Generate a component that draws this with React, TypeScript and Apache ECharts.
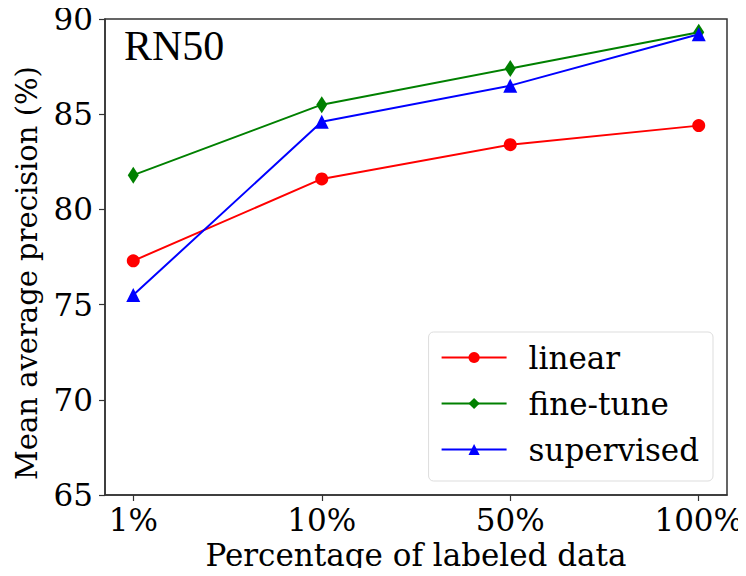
import React, { useEffect, useRef } from "react";
import * as echarts from "echarts";

const categories = ["1%", "10%", "50%", "100%"];
const linear = [77.3, 81.6, 83.4, 84.4];
const fineTune = [81.8, 85.5, 87.4, 89.3];
const supervised = [75.5, 84.6, 86.5, 89.2];
const yTicks = [65, 70, 75, 80, 85, 90];

const FONT = "DejaVu Serif";

export default function App() {
  const ref = useRef<HTMLDivElement>(null);
  useEffect(() => {
    if (!ref.current) return;
    const chart = echarts.init(ref.current, null, { renderer: "svg" });
    const toPts = (arr: number[]) => arr.map((v, i) => [i, v]);
    const mkSeries = (name: string, data: number[], color: string, symbol: string, size: any) => ({
      name,
      type: "line",
      data: toPts(data),
      symbol,
      symbolSize: size,
      lineStyle: { color, width: 2 },
      itemStyle: { color },
      emphasis: { disabled: true },
    });
    chart.setOption({
      animation: false,
      grid: {
        left: 105,
        top: 19,
        right: 19,
        bottom: 81,
        outerBoundsMode: "none",
        containLabel: false,
        show: true,
        borderColor: "#333",
        borderWidth: 1.5,
        backgroundColor: "transparent",
      },
      xAxis: {
        type: "value",
        min: -0.15,
        max: 3.15,
        name: "Percentage of labeled data",
        nameLocation: "middle",
        nameGap: 44,
        nameTextStyle: { fontFamily: FONT, fontSize: 31, color: "#000" },
        axisLine: { show: true, onZero: false, lineStyle: { color: "#333", width: 1.5 } },
        axisTick: { show: true, length: 6, lineStyle: { color: "#333", width: 1.2 }, customValues: [0, 1, 2, 3] },
        axisLabel: {
          customValues: [0, 1, 2, 3],
          formatter: (v: number) => categories[Math.round(v)] ?? "",
          fontFamily: FONT,
          fontSize: 31,
          color: "#000",
          margin: 9,
        },
        splitLine: { show: false },
      },
      yAxis: {
        type: "value",
        min: 65,
        max: 90,
        interval: 5,
        axisLine: { show: true, onZero: false, lineStyle: { color: "#333", width: 1.5 } },
        axisTick: { show: true, length: 6, lineStyle: { color: "#333", width: 1.2 } },
        axisLabel: {
          customValues: yTicks,
          fontFamily: FONT,
          fontSize: 31,
          color: "#000",
          margin: 12,
        },
        splitLine: { show: false },
      },
      legend: {
        orient: "vertical",
        right: 33,
        bottom: 95,
        backgroundColor: "#fff",
        borderColor: "#ddd",
        borderWidth: 1,
        borderRadius: 5,
        padding: [10, 14, 16, 12],
        itemWidth: 65,
        itemHeight: 14,
        itemGap: 15,
        textStyle: { fontFamily: FONT, fontSize: 31, color: "#000", padding: [0, 0, 0, 17] },
        data: ["linear", "fine-tune", "supervised"],
      },
      graphic: [
        {
          type: "text",
          left: 124,
          top: 25,
          style: { text: "RN50", fontFamily: "Liberation Serif", fontSize: 42, fill: "#000" },
        },
        {
          type: "text",
          x: 27,
          y: 273,
          rotation: Math.PI / 2,
          style: {
            text: "Mean average precision (%)",
            fontFamily: FONT,
            fontSize: 29,
            fill: "#000",
            align: "center",
            verticalAlign: "middle",
          },
        },
      ],
      series: [
        mkSeries("linear", linear, "#ff0000", "circle", 13),
        mkSeries("fine-tune", fineTune, "#008000", "diamond", [11, 17]),
        mkSeries("supervised", supervised, "#0000ff", "triangle", 14),
      ],
    });
    return () => chart.dispose();
  }, []);
  return <div ref={ref} style={{ width: 746, height: 576, margin: -8 }} />;
}
